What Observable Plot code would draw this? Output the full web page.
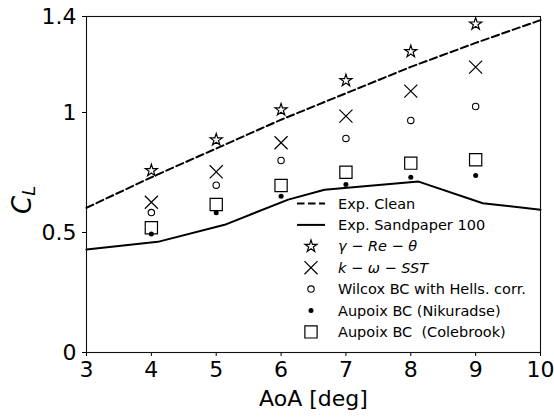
<!DOCTYPE html>
<html>
<head>
<meta charset="utf-8">
<script src="https://cdn.jsdelivr.net/npm/d3@7"></script>
<script src="https://cdn.jsdelivr.net/npm/@observablehq/plot@0.6"></script>
<style>
  html, body { margin: 0; padding: 0; background: white; }
</style>
</head>
<body>
<div id="chart"></div>
<script>
// ---- data ----
const aoa = [4, 5, 6, 7, 8, 9];
const gammaReTheta = [0.758, 0.886, 1.011, 1.133, 1.254, 1.369];
const kOmegaSST = [0.626, 0.753, 0.874, 0.985, 1.089, 1.189];
const wilcoxHells = [0.583, 0.697, 0.800, 0.892, 0.967, 1.025];
const aupoixNikuradse = [0.494, 0.582, 0.651, 0.700, 0.730, 0.738];
const aupoixColebrook = [0.520, 0.617, 0.696, 0.751, 0.789, 0.803];

const cleanAoA = [3, 4, 5, 6, 7, 8, 9, 10];
const cleanCL = [0.603, 0.730, 0.850, 0.970, 1.080, 1.190, 1.290, 1.385];
const sandAoA = [3, 4.1, 5.13, 6.11, 6.67, 8.12, 9.11, 10];
const sandCL = [0.429, 0.461, 0.532, 0.637, 0.678, 0.712, 0.622, 0.595];

const xTicks = [3, 4, 5, 6, 7, 8, 9, 10];
const xTickLabels = ["3", "4", "5", "6", "7", "8", "9", "10"];
const yTicks = [0, 0.5, 1, 1.4];
const yTickLabels = ["0", "0.5", "1", "1.4"];

const legendLabels = [
  [["Exp. Clean", false]],
  [["Exp. Sandpaper 100", false]],
  [["γ", true], [" − ", false], ["Re", true], [" − ", false], ["θ", true]],
  [["k", true], [" − ", false], ["ω", true], [" − ", false], ["SST", true]],
  [["Wilcox BC with Hells. corr.", false]],
  [["Aupoix BC (Nikuradse)", false]],
  [["Aupoix BC \u00a0(Colebrook)", false]]
];

// ---- tables ----
const pts = (ys) => aoa.map((x, i) => ({x, y: ys[i]}));
const clean = cleanAoA.map((x, i) => ({x, y: cleanCL[i]}));
const sand = sandAoA.map((x, i) => ({x, y: sandCL[i]}));

const sym = {
  star: {symbol: "star", r: 3.8, fill: "none", stroke: "#000", strokeWidth: 1.2},
  times: {symbol: "times", r: 6, fill: "none", stroke: "#000", strokeWidth: 1.2},
  circle: {symbol: "circle", r: 3.2, fill: "none", stroke: "#000", strokeWidth: 1.1},
  dot: {symbol: "circle", r: 2.5, fill: "#000", stroke: "none"},
  square: {symbol: "square", r: 6.9, fill: "none", stroke: "#000", strokeWidth: 1.2}
};

const plot = Plot.plot({
  width: 554,
  height: 417,
  marginLeft: 86,
  marginRight: 14,
  marginTop: 16,
  marginBottom: 65,
  style: {fontFamily: "DejaVu Sans", fontSize: "22px", color: "#000", background: "white"},
  x: {domain: [3, 10]},
  y: {domain: [0, 1.4]},
  marks: [
    Plot.axisX({ticks: xTicks, tickFormat: (d) => xTickLabels[xTicks.indexOf(d)], tickSize: 4, tickPadding: 5, fontSize: 22,
      label: "AoA [deg]", labelAnchor: "center", labelArrow: "none", labelOffset: 53}),
    Plot.axisY({ticks: yTicks, tickFormat: (d) => yTickLabels[yTicks.indexOf(d)], tickSize: 4, tickPadding: 6, fontSize: 22, label: null}),
    Plot.line(clean, {x: "x", y: "y", stroke: "#000", strokeWidth: 2, strokeDasharray: "7.5,3.5"}),
    Plot.line(sand, {x: "x", y: "y", stroke: "#000", strokeWidth: 2}),
    Plot.dot(pts(gammaReTheta), {x: "x", y: "y", ...sym.star}),
    Plot.dot(pts(kOmegaSST), {x: "x", y: "y", ...sym.times}),
    Plot.dot(pts(wilcoxHells), {x: "x", y: "y", ...sym.circle}),
    Plot.dot(pts(aupoixNikuradse), {x: "x", y: "y", ...sym.dot}),
    Plot.dot(pts(aupoixColebrook), {x: "x", y: "y", ...sym.square}),
    Plot.frame({stroke: "#111", strokeWidth: 1.1})
  ]
});

document.getElementById("chart").appendChild(plot);

// ---- y label (C_L) ----
const svg = d3.select(plot);
const yl = svg.append("text")
  .attr("transform", "translate(31,214) rotate(-90)")
  .attr("text-anchor", "start")
  .attr("font-family", "DejaVu Sans")
  .attr("font-size", 26)
  .attr("fill", "#000");
yl.append("tspan").attr("font-style", "italic").text("C");
yl.append("tspan").attr("font-style", "italic").attr("font-size", 18).attr("dy", "0.2em").text("L");

// ---- legend ----
const lg = svg.append("g").attr("font-family", "DejaVu Sans").attr("font-size", 14.5).attr("text-anchor", "start");
const y0 = 203.5, dyRow = 21.4, hx = 311;
const symSize = (r) => r * r * Math.PI;
const handles = [
  {type: "line", dash: "7.5,3.5"},
  {type: "line", dash: null},
  {type: "sym", s: d3.symbolStar, o: sym.star},
  {type: "sym", s: d3.symbolTimes, o: sym.times},
  {type: "sym", s: d3.symbolCircle, o: sym.circle},
  {type: "sym", s: d3.symbolCircle, o: sym.dot},
  {type: "sym", s: d3.symbolSquare, o: sym.square}
];
handles.forEach((h, i) => {
  const y = y0 + i * dyRow;
  if (h.type === "line") {
    lg.append("line").attr("x1", 297).attr("x2", 325).attr("y1", y).attr("y2", y)
      .attr("stroke", "#000").attr("stroke-width", 2)
      .attr("stroke-dasharray", h.dash);
  } else {
    lg.append("path").attr("transform", `translate(${hx},${y})`)
      .attr("d", d3.symbol(h.s, symSize(h.o.r))())
      .attr("fill", h.o.fill).attr("stroke", h.o.stroke)
      .attr("stroke-width", h.o.strokeWidth || 0);
  }
  const t = lg.append("text").attr("x", 338).attr("y", y).attr("dy", "0.35em")
    .attr("text-anchor", "start").attr("fill", "#000");
  legendLabels[i].forEach(([s, it]) => {
    const ts = t.append("tspan").text(s);
    if (it) ts.attr("font-style", "italic");
  });
});
</script>
</body>
</html>
